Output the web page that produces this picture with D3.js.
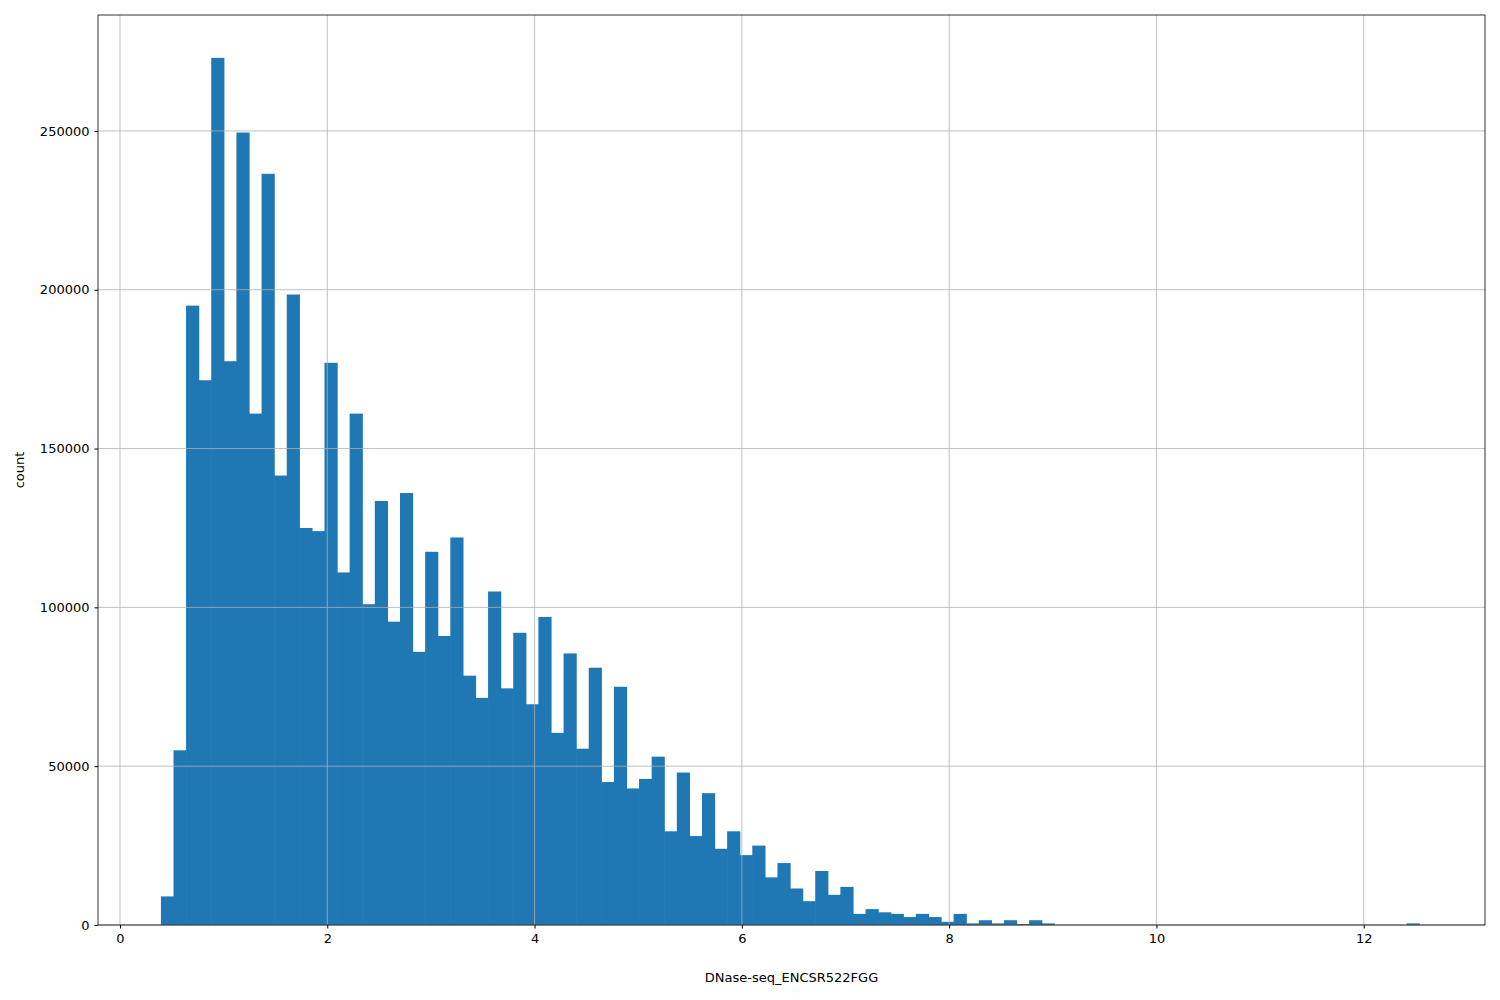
<!DOCTYPE html>
<html><head><meta charset="utf-8">
<script src="https://cdn.jsdelivr.net/npm/d3@7"></script>
<style>body{margin:0;background:#fff}text{font-family:"DejaVu Sans",sans-serif}</style>
</head><body><svg id="c" width="1500" height="1000"></svg>
<script>
// histogram bins
var binStart = 0.395, binEnd = 12.535, binCount = 100;
var counts = [9000,55000,195000,171500,273000,177500,249500,161000,236500,141500,
  198500,125000,124000,177000,111000,161000,101000,133500,95500,136000,
  86000,117500,91000,122000,78500,71500,105000,74500,92000,69500,
  97000,60500,85500,55500,81000,45000,75000,43000,46000,53000,
  29500,48000,28000,41500,24000,29500,22000,25000,15000,19500,
  11500,7500,17000,9500,12000,3500,5000,4000,3500,2500,
  3500,2500,1000,3500,500,1500,500,1500,300,1500,
  500,0,0,0,0,0,0,0,0,0,
  0,0,0,0,0,0,0,0,0,0,
  0,0,0,0,0,0,0,0,0,500];
var xTicks = [0,2,4,6,8,10,12];
var yTicks = [0,50000,100000,150000,200000,250000];

var margin = {top:15, right:15, bottom:75, left:98},
    width = 1500 - margin.left - margin.right,
    height = 1000 - margin.top - margin.bottom;

var svg = d3.select('#c').append('g')
  .attr('transform','translate('+margin.left+','+margin.top+')');

var x = d3.scaleLinear().domain([-0.212, 13.17]).range([0, width]);
var y = d3.scaleLinear().domain([0, 286500]).range([height, 0]);
var w = (binEnd - binStart) / binCount;

svg.selectAll('rect').data(counts).enter().append('rect')
  .attr('x', function(d,i){ return x(binStart + i*w); })
  .attr('width', function(d,i){ return x(binStart + (i+1)*w) - x(binStart + i*w) + 0.6; })
  .attr('y', function(d){ return y(d); })
  .attr('height', function(d){ return height - y(d); })
  .attr('fill','#1f77b4');

// grid over bars
svg.selectAll('.gx').data(xTicks).enter().append('line')
  .attr('x1', function(d){return x(d);}).attr('x2', function(d){return x(d);})
  .attr('y1',0).attr('y2',height).attr('stroke','#b0b0b0').attr('stroke-width',0.8);
svg.selectAll('.gy').data(yTicks).enter().append('line')
  .attr('y1', function(d){return y(d);}).attr('y2', function(d){return y(d);})
  .attr('x1',0).attr('x2',width).attr('stroke','#b0b0b0').attr('stroke-width',0.8);

var xAxis = svg.append('g').attr('transform','translate(0,'+height+')')
  .call(d3.axisBottom(x).tickValues(xTicks).tickSize(3.5).tickPadding(5).tickFormat(d3.format('d')));
var yAxis = svg.append('g')
  .call(d3.axisLeft(y).tickValues(yTicks).tickSize(3.5).tickPadding(5).tickFormat(d3.format('d')));
[xAxis,yAxis].forEach(function(a){
  a.selectAll('text').attr('font-size','13px').attr('fill','#000').style('font-family','DejaVu Sans');
  a.select('.domain').remove();
});

svg.append('rect').attr('width',width).attr('height',height)
  .attr('fill','none').attr('stroke','#000').attr('stroke-width',0.8);

svg.append('text').attr('x', width/2).attr('y', height + 57)
  .attr('text-anchor','middle').attr('font-size','13px').text('DNase-seq_ENCSR522FGG');
svg.append('text').attr('transform','rotate(-90)')
  .attr('x', -height/2).attr('y', -74)
  .attr('text-anchor','middle').attr('font-size','13px').text('count');
</script></body></html>
